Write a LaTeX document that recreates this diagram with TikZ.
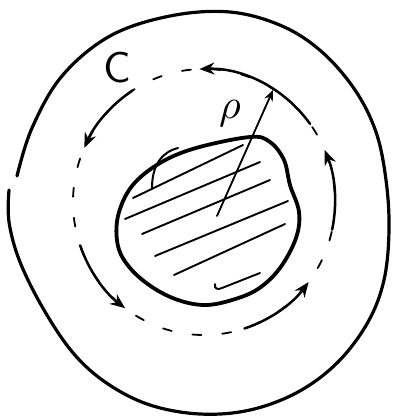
\documentclass[tikz,border=0pt]{standalone}
\usetikzlibrary{arrows.meta}
\begin{document}
\begin{tikzpicture}[x=1pt,y=-1pt,
  blob/.style={line width=3pt,line cap=round,line join=round},
  hatch/.style={line width=1.9pt,line cap=round},
  dashcurve/.style={line width=1.8pt,dash pattern=on 9pt off 21pt,line cap=round},
  flow/.style={line width=2.5pt,line cap=round,-{Stealth[length=15pt,width=12pt]}},
  lbl/.style={inner sep=0pt}]
\useasboundingbox (0,0) rectangle (395,418);
% outer region boundary
\draw[blob,line width=3.2pt] plot[smooth,tension=0.6] coordinates {
 (17,176) (32,128) (62,76) (110,36) (170,16) (230,12) (282,26) (322,52)
 (355,90) (376,132) (386,180) (389,230) (384,280) (368,322) (338,362)
 (298,392) (250,410) (200,414) (150,405) (108,384) (74,354) (44,310)
 (20,262) (9,222) (9,190)};
% inner blob
\draw[blob,line width=3.8pt] plot[smooth cycle,tension=0.6] coordinates {
 (250,137) (196,148) (160,163) (132,186) (118,216) (118,246) (130,268)
 (152,287) (178,300) (205,305) (232,300) (258,289) (280,268) (296,238)
 (299,212) (290,185) (284,160) (270,142)};
\draw[hatch,line width=2pt] (152,188) .. controls (152,165) and (162,152) .. (178,148);
% hatching
\draw[hatch] (133,198) -- (243,145);
\draw[hatch] (125,219) -- (260,162);
\draw[hatch] (142,234) -- (270,180);
\draw[hatch] (155,256) -- (288,201);
\draw[hatch] (174,275) -- (285,224);
\draw[hatch] (215,284) .. controls (214,289) and (218,290) .. (222,288) -- (260,273);
% dashed curve C
\draw[dashcurve] (204,202) ellipse [x radius=131, y radius=133];
% solid arrowed arcs along C
\draw[flow] (204,202) ++(-36:131 and 133) arc[start angle=-36,end angle=-92,x radius=131,y radius=133];
\draw[flow] (204,202) ++(12:131 and 133) arc[start angle=12,end angle=-23,x radius=131,y radius=133];
\draw[flow] (204,202) ++(72:131 and 133) arc[start angle=72,end angle=37,x radius=131,y radius=133];
\draw[flow] (204,202) ++(161:131 and 133) arc[start angle=161,end angle=127,x radius=131,y radius=133];
\draw[flow] (204,202) ++(237:131 and 133) arc[start angle=237,end angle=204,x radius=131,y radius=133];
% labels
\node[lbl,scale=4.3] (Clab) at (117,68) {\sffamily C};
\node[lbl,scale=4.2] (rholab) at (230,114) {$\rho$};
% radius arrow
\coordinate (rho0) at (217,216);
\coordinate (rho1) at (273,90);
\draw[line width=1.8pt,line cap=round,-{Stealth[length=11pt,width=9pt]}] (rho0) -- (rho1);
\end{tikzpicture}
\end{document}
